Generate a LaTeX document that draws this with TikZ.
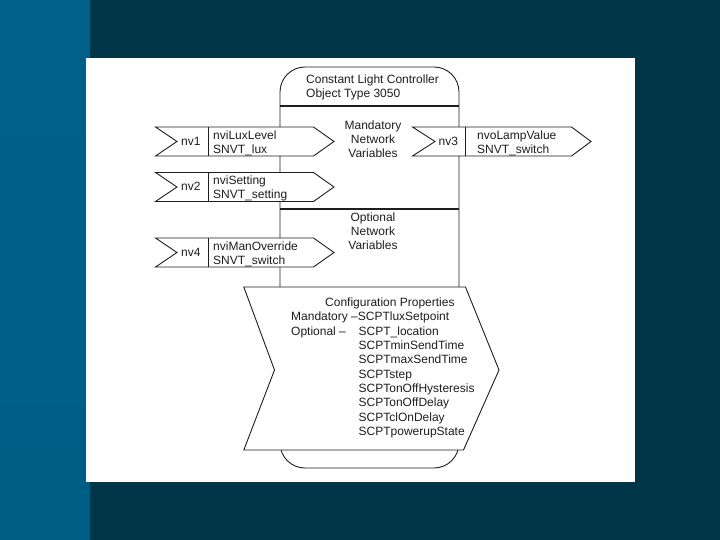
\documentclass[tikz,border=0pt]{standalone}
\usepackage{fontspec}
\setmainfont{Liberation Sans}
\definecolor{darkbg}{RGB}{1,54,73}
\definecolor{striptop}{RGB}{0,96,136}
\definecolor{stripmid}{RGB}{0,121,163}
\definecolor{stripbot}{RGB}{0,94,133}
\definecolor{ink}{RGB}{30,30,30}
\newcommand\nvarr[6]{% left, notch, divider, tipstart, tip, top
  \draw[shp] (#1,#6) -- (#4,#6) -- (#5,#6+14.5) -- (#4,#6+29) -- (#1,#6+29) -- (#2,#6+14.5) -- cycle;
  \draw[shp] (#3,#6) -- (#3,#6+29);}
\begin{document}
\begin{tikzpicture}[x=1pt,y=-1pt,
  shp/.style={draw=ink,fill=white,line width=0.9pt,line join=miter},
  sepline/.style={draw=ink,line width=1.6pt},
  txt/.style={anchor=base west,inner sep=0pt,text=ink,font=\fontsize{12}{14}\selectfont},
  ctxt/.style={anchor=base,inner sep=0pt,text=ink,font=\fontsize{12}{14}\selectfont}]
\useasboundingbox (0,0) rectangle (720,540);
% background
\fill[darkbg] (0,0) rectangle (720,540);
\shade[top color=striptop,middle color=stripmid,bottom color=stripbot] (0,0) rectangle (90,540);
\fill[white] (86,58) rectangle (635,482);
% main object box
\draw[draw=ink,line width=0.9pt,rounded corners=25pt] (280,67) rectangle (459,468);
\draw[sepline] (280,106) -- (459,106);
\draw[sepline] (280,209) -- (459,209);
% network variable arrows
\nvarr{155.5}{177}{208.5}{313.5}{334}{127}
\nvarr{155.5}{177}{208.5}{313.5}{334}{172.5}
\nvarr{155.5}{177}{208.5}{313.5}{334}{238}
\nvarr{412.5}{435}{465}{571.5}{591}{127}
% configuration properties shape
\draw[shp] (243.8,287) -- (465.5,287) -- (499,370) -- (463.5,450) -- (243.8,450) -- (274.5,370) -- cycle;
% texts
\node[txt] (t1) at (306,83.3) {Constant Light Controller};
\node[txt] (t2) at (306,97.3) {Object Type 3050};
\node[ctxt] (m1) at (373,129.3) {Mandatory};
\node[ctxt] (m2) at (373,143.3) {Network};
\node[ctxt] (m3) at (373,157.3) {Variables};
\node[ctxt] (o1) at (373,221.6) {Optional};
\node[ctxt] (o2) at (373,235.6) {Network};
\node[ctxt] (o3) at (373,249.6) {Variables};
\node[txt] (nv1) at (181,145.3) {nv1};
\node[txt] (n1a) at (213,139.3) {nviLuxLevel};
\node[txt] (n1b) at (213,153.3) {SNVT\_lux};
\node[txt] (nv2) at (181,190.8) {nv2};
\node[txt] (n2a) at (213,184.8) {nviSetting};
\node[txt] (n2b) at (213,198.8) {SNVT\_setting};
\node[txt] (nv4) at (181,256.3) {nv4};
\node[txt] (n4a) at (213,250.3) {nviManOverride};
\node[txt] (n4b) at (213,264.3) {SNVT\_switch};
\node[txt] (nv3) at (438.5,145.3) {nv3};
\node[txt] (n3a) at (477,139.3) {nvoLampValue};
\node[txt] (n3b) at (477,153.3) {SNVT\_switch};
\node[txt] (c0) at (325,306.6) {Configuration Properties};
\node[txt] (c1) at (291,320.9) {Mandatory –SCPTluxSetpoint};
\node[txt] (c2) at (291,335.2) {Optional –};
\foreach \s [count=\i from 0] in {SCPT\_location,SCPTminSendTime,SCPTmaxSendTime,SCPTstep,SCPTonOffHysteresis,SCPTonOffDelay,SCPTclOnDelay,SCPTpowerupState}
  \node[txt] (p\i) at (358.5,335.2+14.3*\i) {\s};
\end{tikzpicture}
\end{document}
